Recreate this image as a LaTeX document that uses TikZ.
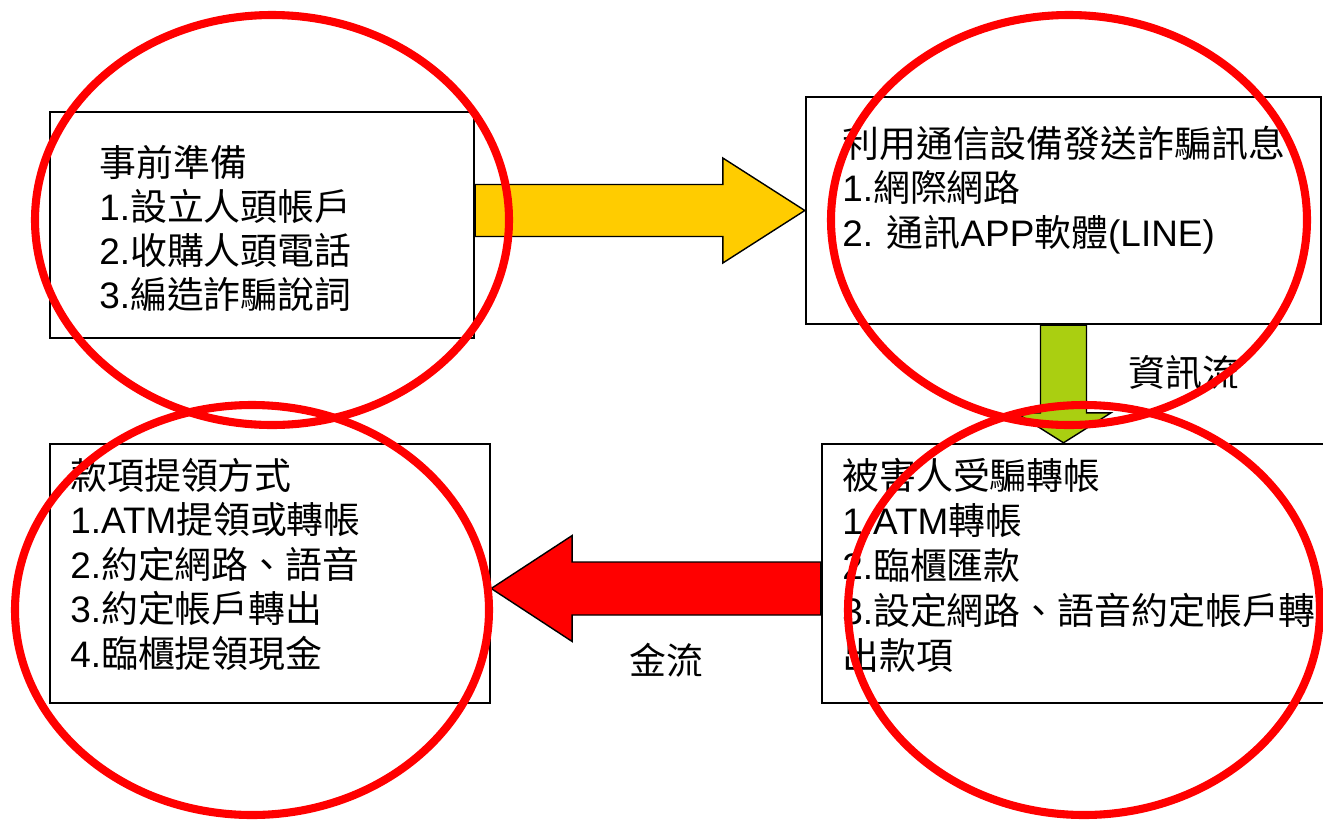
\documentclass[tikz,border=0pt]{standalone}
\usepackage{fontspec}
\setmainfont{Liberation Sans}
\newfontfamily\cjk{Noto Sans CJK TC}
\newcommand{\zh}[1]{{\cjk #1}}
\usetikzlibrary{calc}
\definecolor{gold}{HTML}{FFCC00}
\definecolor{lime}{HTML}{AACF11}
\definecolor{ringred}{HTML}{FF0000}
\tikzset{
  box/.style={draw, line width=1.4pt, inner sep=0pt},
  line/.style={anchor=west, inner sep=0pt, text height=16.4pt, text depth=0.4pt, font=\fontsize{21pt}{25pt}\selectfont},
  flow/.style={draw, line width=0.8pt, line join=miter},
  ring/.style={draw=ringred, line width=4.6pt}
}
\begin{document}
\begin{tikzpicture}[x=0.02cm, y=-0.02cm]
    \useasboundingbox (0,0) rectangle (1323,819);
    % boxes
    \node[box, minimum width=8.48cm, minimum height=4.52cm] (prep) at (262,225) {};
    \node[box, minimum width=10.30cm, minimum height=4.54cm] (send) at (1063.5,210.5) {};
    \node[box, minimum width=8.80cm, minimum height=5.18cm] (withdraw) at (270,573.5) {};
    \node[box, minimum width=10.36cm, minimum height=5.18cm] (victim) at (1081,573.5) {};
    % texts
    \foreach \t [count=\i from 0] in {\zh{事前準備}, 1.\zh{設立人頭帳戶}, 2.\zh{收購人頭電話}, 3.\zh{編造詐騙說詞}}
      {\node[line] (prep\i) at (99,{162+44*\i}) {\t};}
    \foreach \t [count=\i from 0] in {\zh{利用通信設備發送詐騙訊息}, 1.\zh{網際網路}, 2. \zh{通訊}APP\zh{軟體}(LINE)}
      {\node[line] (send\i) at (842,{143+44.5*\i}) {\t};}
    \foreach \t [count=\i from 0] in {\zh{款項提領方式}, 1.ATM\zh{提領或轉帳}, 2.\zh{約定網路、語音}, 3.\zh{約定帳戶轉出}, 4.\zh{臨櫃提領現金}}
      {\node[line] (withdraw\i) at (70,{475+44.5*\i}) {\t};}
    \foreach \t [count=\i from 0] in {\zh{被害人受騙轉帳}, 1.ATM\zh{轉帳}, 2.\zh{臨櫃匯款}, 3.\zh{設定網路、語音約定帳戶轉}, \zh{出款項}}
      {\node[line] (victim\i) at (842,{475+45*\i}) {\t};}
    \node[line, anchor=center] (info) at (1184,372) {\zh{資訊流}};
    \node[line, anchor=center] (money) at (666,660) {\zh{金流}};
    % block arrows
    \coordinate (yTail) at (prep.east |- send.west);
    \coordinate (gTip) at (victim.north -| send.south);
    \coordinate (rTail) at ($(victim.west)+(0,15)$);
    \coordinate (rTip) at (withdraw.east |- rTail);
    \draw[flow, fill=gold] ($(yTail)+(0,-26)$) -- ($(send.west)+(-82,-26)$) -- ($(send.west)+(-82,-52.5)$)
      -- (send.west) -- ($(send.west)+(-82,52.5)$) -- ($(send.west)+(-82,26)$) -- ($(yTail)+(0,26)$) -- cycle;
    \draw[flow, fill=lime] ($(send.south)+(-23,0)$) -- ($(gTip)+(-23,-30)$) -- ($(gTip)+(-47.5,-30)$)
      -- (gTip) -- ($(gTip)+(47.5,-30)$) -- ($(gTip)+(23,-30)$) -- ($(send.south)+(23,0)$) -- cycle;
    \draw[flow, fill=ringred] ($(rTail)+(0,-26.5)$) -- ($(rTip)+(81,-26.5)$) -- ($(rTip)+(81,-53)$)
      -- (rTip) -- ($(rTip)+(81,53)$) -- ($(rTip)+(81,26.5)$) -- ($(rTail)+(0,26.5)$) -- cycle;
    % red rings
    \draw[ring] (272,220) ellipse [x radius=237, y radius=205];
    \draw[ring] (1069,220) ellipse [x radius=238, y radius=205];
    \draw[ring] (252,610) ellipse [x radius=237, y radius=205];
    \draw[ring] (1084,610) ellipse [x radius=236, y radius=205];
\end{tikzpicture}
\end{document}
